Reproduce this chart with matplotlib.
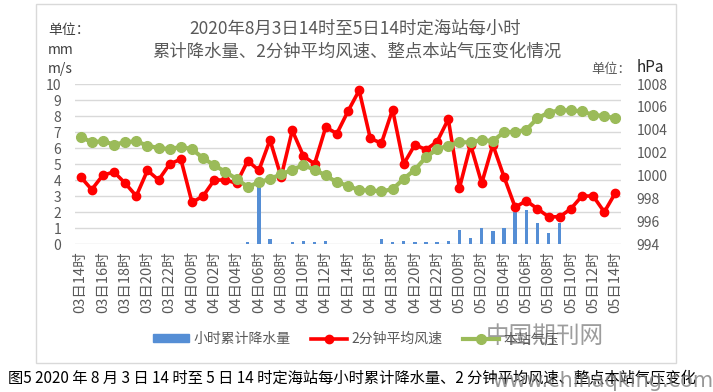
import numpy as np
import matplotlib
matplotlib.use('Agg')
import matplotlib.pyplot as plt
from matplotlib.patches import Rectangle
from matplotlib.lines import Line2D

plt.rcParams['font.family'] = ['Noto Sans CJK SC', 'DejaVu Sans']

# ---------------------------------------------------------------------------
# data (hourly, 03日14时 .. 05日14时)
# ---------------------------------------------------------------------------
tick_labels = ['03日14时', '03日16时', '03日18时', '03日20时', '03日22时',
               '04日00时', '04日02时', '04日04时', '04日06时', '04日08时',
               '04日10时', '04日12时', '04日14时', '04日16时', '04日18时',
               '04日20时', '04日22时', '05日00时', '05日02时', '05日04时',
               '05日06时', '05日08时', '05日10时', '05日12时', '05日14时']

rain = [0, 0, 0, 0, 0, 0, 0, 0, 0, 0,
        0, 0, 0, 0, 0, 0.1, 3.6, 0.3, 0, 0.1,
        0.2, 0.1, 0.2, 0, 0, 0, 0, 0.3, 0.1, 0.2,
        0.1, 0.1, 0.1, 0.2, 0.9, 0.4, 1.0, 0.8, 1.0, 2.0,
        2.1, 1.3, 0.7, 1.3, 0, 0, 0, 0, 0]

wind = [4.2, 3.4, 4.3, 4.5, 3.8, 3.0, 4.6, 4.0, 5.0, 5.3,
        2.6, 3.0, 4.0, 4.0, 3.8, 5.2, 4.6, 6.5, 4.2, 7.1,
        5.5, 5.0, 7.3, 6.9, 8.3, 9.6, 6.6, 6.3, 8.4, 5.0,
        6.2, 5.9, 6.4, 7.8, 3.5, 6.2, 3.8, 6.2, 4.2, 2.3,
        2.7, 2.2, 1.7, 1.7, 2.2, 3.0, 3.0, 2.0, 3.2]

pressure = [1003.4, 1002.9, 1003.0, 1002.7, 1002.9, 1003.0, 1002.6, 1002.4, 1002.3, 1002.5,
            1002.3, 1001.5, 1000.9, 1000.3, 999.7, 999.0, 999.4, 999.7, 1000.1, 1000.5,
            1000.9, 1000.5, 1000.0, 999.4, 999.1, 998.7, 998.7, 998.6, 998.8, 999.7,
            1000.5, 1001.6, 1002.3, 1002.6, 1002.9, 1002.9, 1003.1, 1003.0, 1003.8, 1003.8,
            1004.0, 1005.0, 1005.5, 1005.7, 1005.7, 1005.6, 1005.3, 1005.2, 1005.0]

BLUE = '#558ed5'
RED = '#ff0000'
GREEN = '#9bbb59'
GREY = '#595959'

x = np.arange(len(wind))

fig = plt.figure(figsize=(7.13, 3.92), dpi=100)
W, H = 713, 392

# chart frame
fig.patches.append(Rectangle((36 / W, 1 - 363 / H), 640 / W, 359 / H,
                             transform=fig.transFigure, fill=False,
                             edgecolor='#d9d9d9', lw=1))

ax = fig.add_axes([75 / W, 1 - 244 / H, 546 / W, 160 / H])
ax2 = ax.twinx()

# bars + wind on left axis
ax.bar(x, rain, width=0.3, color=BLUE, zorder=2)
ax.plot(x, wind, color=RED, lw=2.6, marker='o', ms=6, zorder=3)
ax.set_ylim(0, 10)
ax.set_yticks(range(0, 11))
ax.set_xlim(-0.5, len(wind) - 0.5)
ax.set_xticks(x[::2])
ax.set_xticklabels(tick_labels, rotation=90, fontsize=10.5, color=GREY)
ax.tick_params(axis='y', length=0, labelsize=10, labelcolor=GREY, pad=10)
ax.tick_params(axis='x', length=0, pad=5)
ax.grid(axis='y', color='#d9d9d9', lw=1, zorder=0)
ax.set_axisbelow(True)
for s in ax.spines.values():
    s.set_visible(False)

# pressure on right axis
ax2.plot(x, pressure, color=GREEN, lw=3, marker='o', ms=7, zorder=3)
ax2.set_ylim(994, 1008)
ax2.set_yticks(range(994, 1009, 2))
ax2.tick_params(axis='y', length=0, labelsize=10, labelcolor=GREY, pad=11)
for s in ax2.spines.values():
    s.set_visible(False)

# titles and unit labels
fig.text(355 / W, 1 - 29 / H, '2020年8月3日14时至5日14时定海站每小时',
         ha='center', va='center', fontsize=12.5, color=GREY)
fig.text(357 / W, 1 - 52 / H, '累计降水量、2分钟平均风速、整点本站气压变化情况',
         ha='center', va='center', fontsize=12.5, color=GREY)
fig.text(48 / W, 1 - 30 / H, '单位：', ha='left', va='center', fontsize=10, color='#404040')
fig.text(48 / W, 1 - 50 / H, 'mm', ha='left', va='center', fontsize=10, color='#404040')
fig.text(48 / W, 1 - 69 / H, 'm/s', ha='left', va='center', fontsize=10, color='#404040')
fig.text(591 / W, 1 - 69 / H, '单位：', ha='left', va='center', fontsize=9.5, color=GREY)
fig.text(637 / W, 1 - 68 / H, 'hPa', ha='left', va='center', fontsize=11, color='#262626')

# legend
handles = [Rectangle((0, 0), 1, 1, color=BLUE),
           Line2D([], [], color=RED, lw=2.6, marker='o', ms=6),
           Line2D([], [], color=GREEN, lw=3, marker='o', ms=7)]
fig.legend(handles, ['小时累计降水量', '2分钟平均风速', '本站气压'],
           loc='center', bbox_to_anchor=(356 / W, 1 - 339 / H), ncol=3,
           frameon=False, fontsize=10, labelcolor=GREY, handlelength=2.6,
           handleheight=0.5, columnspacing=1.5, handletextpad=0.3)

# caption
fig.text(8 / W, 1 - 378 / H,
         '图5 2020 年 8 月 3 日 14 时至 5 日 14 时定海站每小时累计降水量、2 分钟平均风速、整点本站气压变化',
         ha='left', va='center', fontsize=11, color='black')

# watermark
fig.text(545 / W, 1 - 336 / H, '中国期刊网', ha='center', va='center',
         fontsize=17, color='#8c8c8c', alpha=0.85)
fig.text(713 / W, 1 - 381 / H, 'www.chinaqking.com', ha='right', va='center',
         fontsize=15, color='#7f7f7f', alpha=0.8, family='DejaVu Sans')

fig.savefig('out.png', dpi=100)
